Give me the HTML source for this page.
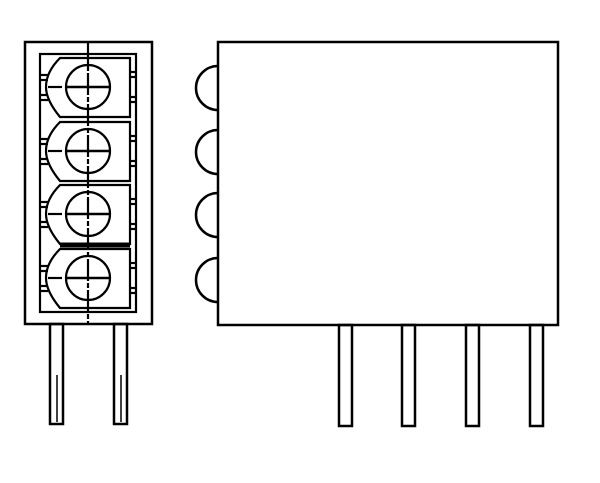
<!DOCTYPE html>
<html><head><style>body{margin:0;background:#fff}svg{display:block}</style></head><body>
<svg width="600" height="483" viewBox="0 0 600 483" xmlns="http://www.w3.org/2000/svg">
<rect width="600" height="483" fill="#fff"/>
<g fill="none" stroke="#000" stroke-width="2.5">
<rect x="25" y="42" width="127" height="282"/>
<rect x="40" y="54" width="96" height="258" stroke-width="2.2"/>
<line x1="88" y1="42" x2="88" y2="324" stroke-width="2.2" stroke-dasharray="22 2 5 2"/>
</g>
<g fill="none" stroke="#000" stroke-width="2.2">
<g id="seg">
<path d="M60 58 L130 58 L130 117 L60 117 Q46 100 46 87 Q46 72 60 58 Z"/>
<circle cx="88" cy="87" r="22"/>
<line x1="48" y1="87" x2="62" y2="87"/>
<line x1="66" y1="87" x2="110" y2="87" stroke-width="2.6"/>
<line x1="41" y1="75" x2="48" y2="75"/><line x1="41" y1="80" x2="48" y2="80"/>
<line x1="41" y1="95" x2="48" y2="95"/><line x1="41" y1="100" x2="48" y2="100"/>
<line x1="130" y1="72" x2="135" y2="72"/><line x1="130" y1="77" x2="135" y2="77"/>
<line x1="130" y1="97" x2="135" y2="97"/><line x1="130" y1="102" x2="135" y2="102"/>
</g>
<use href="#seg" y="64"/>
<use href="#seg" y="127"/>
<use href="#seg" y="191"/>
</g>
<line x1="60" y1="245" x2="130" y2="245" stroke="#000" stroke-width="5"/>
<g fill="none" stroke="#000" stroke-width="2.5">
<rect x="50" y="324" width="13" height="100"/>
<rect x="114" y="324" width="13" height="100"/>
<line x1="57" y1="375" x2="57" y2="422" stroke-width="1.5"/>
<line x1="121" y1="375" x2="121" y2="422" stroke-width="1.5"/>
<rect x="218" y="42" width="340" height="283"/>
<path d="M218 66 A22 22 0 0 0 218 110"/>
<path d="M218 130 A22 22 0 0 0 218 174"/>
<path d="M218 193 A22 22 0 0 0 218 237"/>
<path d="M218 258 A22 22 0 0 0 218 302"/>
<rect x="339" y="325" width="13" height="101"/>
<rect x="402" y="325" width="13" height="101"/>
<rect x="466" y="325" width="13" height="101"/>
<rect x="530" y="325" width="13" height="101"/>
</g>
</svg>
</body></html>
